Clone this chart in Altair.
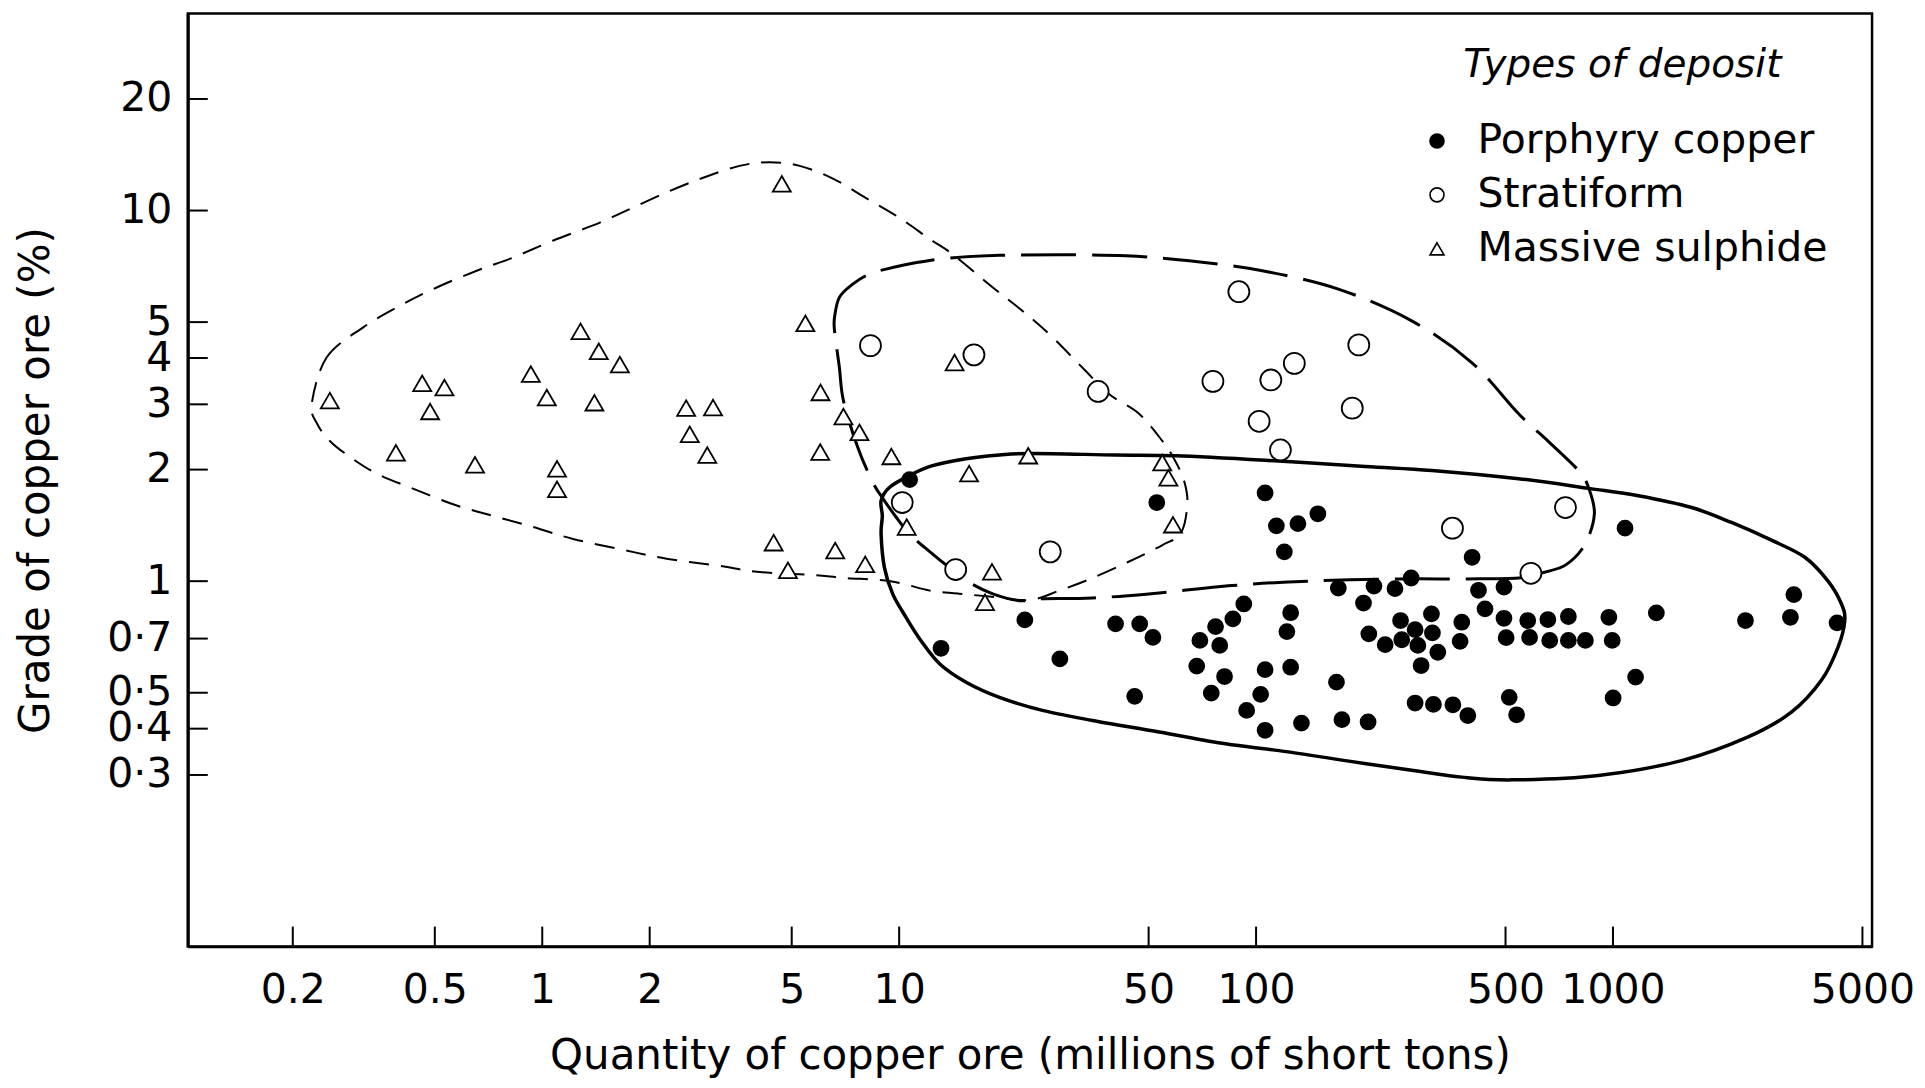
import altair as alt
import pandas as pd

# ---------------- data ----------------
types = ["Porphyry copper", "Stratiform", "Massive sulphide"]

porphyry_qty = [10.7, 52.7, 106, 114, 22.5, 40.4, 47.2, 51.4, 92.4, 86.1, 77.0, 69.6, 79.1, 13.1, 28.2,
                68.2, 81.6, 106, 45.7, 74.9, 103, 94.1, 106, 131, 149, 120, 403, 170, 214, 245, 272, 200,
                420, 495, 438, 495, 125, 122, 207, 254, 279, 310, 377, 1081, 230, 312, 284, 323, 290, 373,
                125, 168, 134, 174, 206, 279, 314, 356, 392, 512, 537, 502, 577, 584, 657, 665, 750, 750,
                837, 974, 995, 1323, 1157, 1001, 2351, 3212, 3142, 4245, 256]
porphyry_grade = [1.88, 1.63, 1.73, 1.41, 0.786, 0.767, 0.767, 0.705, 0.868, 0.791, 0.754, 0.692, 0.671,
                  0.659, 0.617, 0.590, 0.553, 0.577, 0.489, 0.499, 0.495, 0.448, 0.396, 1.43, 1.52, 1.20,
                  1.16, 0.958, 0.970, 0.955, 1.02, 0.873, 0.945, 0.964, 0.842, 0.794, 0.822, 0.731, 0.721,
                  0.783, 0.740, 0.816, 0.775, 1.39, 0.674, 0.725, 0.671, 0.643, 0.592, 0.688, 0.586, 0.534,
                  0.414, 0.423, 0.417, 0.469, 0.465, 0.464, 0.434, 0.486, 0.436, 0.704, 0.783, 0.705, 0.788,
                  0.692, 0.803, 0.692, 0.692, 0.799, 0.692, 0.821, 0.551, 0.484, 0.783, 0.920, 0.799, 0.772,
                  0.695]

strat_qty = [8.31, 16.2, 36.1, 10.2, 26.5, 14.4, 89.5, 194, 128, 110, 75.7, 186, 102, 117, 355, 736, 589]
strat_grade = [4.32, 4.08, 3.25, 1.63, 1.20, 1.075, 6.04, 4.34, 3.87, 3.49, 3.46, 2.93, 2.70, 2.26, 1.39,
               1.58, 1.05]

massive_qty = [0.254, 0.461, 0.532, 0.485, 0.389, 0.648, 0.929, 1.03, 1.28, 1.44, 1.65, 1.40, 1.10, 1.10,
               2.53, 3.01, 2.59, 2.90, 4.69, 5.46, 6.02, 6.98, 7.74, 6.01, 9.51, 14.3, 15.7, 23.0, 10.5,
               4.45, 6.62, 8.03, 4.88, 54.6, 56.8, 58.5, 18.2, 17.4]
massive_grade = [3.07, 3.42, 3.33, 2.87, 2.22, 2.06, 3.62, 3.13, 4.72, 4.17, 3.84, 3.03, 2.01, 1.77, 2.93,
                 2.94, 2.49, 2.19, 11.8, 4.96, 3.23, 2.78, 2.52, 2.23, 2.17, 3.89, 1.95, 2.18, 1.40, 1.27,
                 1.21, 1.11, 1.07, 2.09, 1.90, 1.42, 1.06, 0.877]

# envelope outlines (traced, in data units)
env_massive_qty = [0.226, 0.249, 0.315, 0.400, 0.506, 0.655, 0.829, 1.07, 1.45, 1.80, 2.28, 2.85, 3.57,
                   4.33, 5.26, 6.52, 8.08, 10.0, 12.2, 14.1, 18.3, 22.7, 26.9, 32.6, 38.7, 47.0, 54.6, 58.9,
                   62.8, 64.2, 61.6, 54.5, 44.1, 34.8, 28.1, 23.1, 17.9, 14.6, 12.2, 9.45, 7.07, 5.63, 3.99,
                   3.14, 2.23, 1.65, 1.22, 0.943, 0.729, 0.576, 0.445, 0.344, 0.290, 0.254, 0.234]
env_massive_grade = [3.01, 4.02, 4.84, 5.54, 6.20, 6.88, 7.47, 8.29, 9.28, 10.2, 11.3, 12.3, 13.2, 13.5,
                     13.2, 12.2, 10.8, 9.57, 8.37, 7.63, 6.20, 5.26, 4.55, 3.77, 3.20, 2.83, 2.39, 2.14,
                     1.87, 1.62, 1.35, 1.25, 1.13, 1.02, 0.943, 0.889, 0.909, 0.926, 0.943, 1.00, 1.02,
                     1.04, 1.06, 1.10, 1.15, 1.22, 1.30, 1.40, 1.50, 1.60, 1.76, 1.95, 2.16, 2.39, 2.66]

env_strat_qty = [6.59, 6.59, 6.80, 7.41, 8.25, 9.19, 11.2, 13.8, 19.1, 28.1, 43.1, 64.9, 104, 170, 273,
                 402, 544, 660, 800, 854, 887, 836, 741, 639, 544, 386, 251, 140, 85.7, 50.1, 34.8, 24.7,
                 21.7, 18.3, 15.7, 13.8, 12.2, 10.7, 9.80, 9.09, 8.43, 7.65, 6.98, 6.80]
env_strat_grade = [4.74, 5.15, 5.83, 6.33, 6.74, 6.95, 7.24, 7.44, 7.57, 7.60, 7.55, 7.32, 6.88, 6.14,
                   5.04, 3.89, 2.83, 2.38, 1.99, 1.79, 1.52, 1.26, 1.11, 1.055, 1.02, 1.014, 1.014, 1.0,
                   0.973, 0.924, 0.901, 0.896, 0.886, 0.924, 0.993, 1.09, 1.20, 1.34, 1.49, 1.65, 1.85,
                   2.30, 3.07, 3.77]

env_porphyry_qty = [8.90, 9.39, 10.7, 12.4, 15.4, 19.1, 23.6, 40.4, 59.6, 106, 202, 311, 544, 854, 1178,
                    1661, 2148, 2781, 3448, 4006, 4364, 4461, 4273, 3837, 3162, 2392, 1557, 910, 521, 377,
                    273, 178, 116, 82.1, 53.5, 34.8, 25.2, 19.1, 15.4, 13.0, 11.5, 10.45, 9.59, 9.09, 8.90,
                    8.97]
env_porphyry_grade = [1.65, 1.79, 1.93, 2.05, 2.14, 2.19, 2.21, 2.19, 2.18, 2.12, 2.04, 1.99, 1.89, 1.78,
                      1.70, 1.58, 1.44, 1.29, 1.16, 1.00, 0.869, 0.783, 0.664, 0.540, 0.443, 0.380, 0.328,
                      0.299, 0.291, 0.296, 0.309, 0.328, 0.349, 0.364, 0.392, 0.421, 0.448, 0.486, 0.534,
                      0.598, 0.692, 0.799, 0.924, 1.09, 1.34, 1.50]

x_tick_values = [0.2, 0.5, 1, 2, 5, 10, 50, 100, 500, 1000, 5000]
x_tick_labels = ["0.2", "0.5", "1", "2", "5", "10", "50", "100", "500", "1000", "5000"]
y_tick_values = [0.3, 0.4, 0.5, 0.7, 1, 2, 3, 4, 5, 10, 20]
y_tick_labels = ["0·3", "0·4", "0·5", "0·7", "1", "2", "3", "4", "5", "10", "20"]

# ---------------- chart ----------------
FONT = "DejaVu Sans"
W, H = 1686, 934


def label_expr(vals, labs):
    expr = "''"
    for v, l in reversed(list(zip(vals, labs))):
        expr = f"(abs(datum.value - {v}) < {v} * 1e-6) ? '{l}' : ({expr})"
    return expr


xscale = alt.Scale(type="log", domain=[0.1016, 5320], nice=False)
yscale = alt.Scale(type="log", domain=[0.1033, 34.0], nice=False)

xaxis = alt.Axis(values=x_tick_values, labelExpr=label_expr(x_tick_values, x_tick_labels),
                 ticks=False, grid=False, domain=True, domainColor="black", domainWidth=2.5,
                 labelFont=FONT, labelFontSize=41, labelColor="black", labelPadding=24,
                 labelFlush=False, labelOverlap=False,
                 title="Quantity of copper ore (millions of short tons)", titleFont=FONT,
                 titleFontSize=42, titleFontWeight="normal", titleColor="black",
                 titleX=W / 2, titleY=122, titleAlign="center", titleBaseline="alphabetic")
yaxis = alt.Axis(values=y_tick_values, labelExpr=label_expr(y_tick_values, y_tick_labels),
                 ticks=False, grid=False, domain=True, domainColor="black", domainWidth=3,
                 labelFont=FONT, labelFontSize=41, labelColor="black", labelPadding=16,
                 labelFlush=False, labelOverlap=False,
                 title="Grade of copper ore (%)", titleFont=FONT, titleFontSize=42,
                 titleFontWeight="normal", titleColor="black", titleAngle=270,
                 titleX=-139, titleY=H / 2, titleAlign="center", titleBaseline="alphabetic")


def X(f):
    return alt.X(f, scale=xscale, axis=xaxis)


def Y(f):
    return alt.Y(f, scale=yscale, axis=yaxis)


legend = alt.Legend(title="Types of deposit", orient="none", legendX=1230, legendY=33,
                    titleFont=FONT, titleFontSize=39, titleFontStyle="italic", titleFontWeight="normal",
                    titleColor="black", titleAnchor="middle", titlePadding=35, titleLimit=800,
                    labelFont=FONT, labelFontSize=41, labelColor="black", labelOffset=20, labelLimit=800,
                    symbolSize=196, symbolStrokeColor="black", symbolStrokeWidth=1.6,
                    rowPadding=12, padding=0)

SHAPE = alt.Shape("type:N", scale=alt.Scale(domain=types, range=["circle", "circle", "triangle-up"]),
                  legend=legend)
FILL = alt.Fill("type:N", scale=alt.Scale(domain=types, range=["black", "white", "white"]),
                legend=legend)
STROKE = alt.Stroke("type:N", scale=alt.Scale(domain=types, range=["black", "black", "black"]),
                    legend=legend)


def point_layer(q, g, t, size):
    df = pd.DataFrame({"qty": q, "grade": g, "type": [t] * len(q)})
    return alt.Chart(df).mark_point(filled=True, strokeWidth=1.8, opacity=1, size=size).encode(
        x=X("qty:Q"), y=Y("grade:Q"), shape=SHAPE, fill=FILL, stroke=STROKE)


pts_p = point_layer(porphyry_qty, porphyry_grade, types[0], 225)
pts_s = point_layer(strat_qty, strat_grade, types[1], 441)
pts_m = point_layer(massive_qty, massive_grade, types[2], 324)


def envelope(q, g, dash, width):
    df = pd.DataFrame({"qty": q, "grade": g, "i": list(range(len(q)))})
    props = dict(interpolate="cardinal-closed", color="black", strokeWidth=width)
    if dash:
        props["strokeDash"] = dash
    return alt.Chart(df).mark_line(**props).encode(x=X("qty:Q"), y=Y("grade:Q"), order="i:Q")


env_m = envelope(env_massive_qty, env_massive_grade, [20, 12], 2)
env_s = envelope(env_strat_qty, env_strat_grade, [55, 16], 3)
env_p = envelope(env_porphyry_qty, env_porphyry_grade, None, 3.5)

xt = alt.Chart(pd.DataFrame({"qty": x_tick_values})).mark_rule(color="black", strokeWidth=2).encode(
    x=X("qty:Q"), y=alt.value(H), y2=alt.value(H - 20))
yt = alt.Chart(pd.DataFrame({"grade": y_tick_values})).mark_rule(color="black", strokeWidth=2).encode(
    y=Y("grade:Q"), x=alt.value(0), x2=alt.value(20))

chart = alt.layer(env_m, env_s, env_p, pts_p, pts_s, pts_m, xt, yt).properties(
    width=W, height=H,
    autosize=alt.AutoSizeParams(type="none"),
    padding={"left": 180, "top": 5, "right": 45, "bottom": 133},
).configure(font=FONT).configure_view(stroke="black", strokeWidth=2.5)

chart.save("out.html", embed_options={"renderer": "svg", "actions": False})
